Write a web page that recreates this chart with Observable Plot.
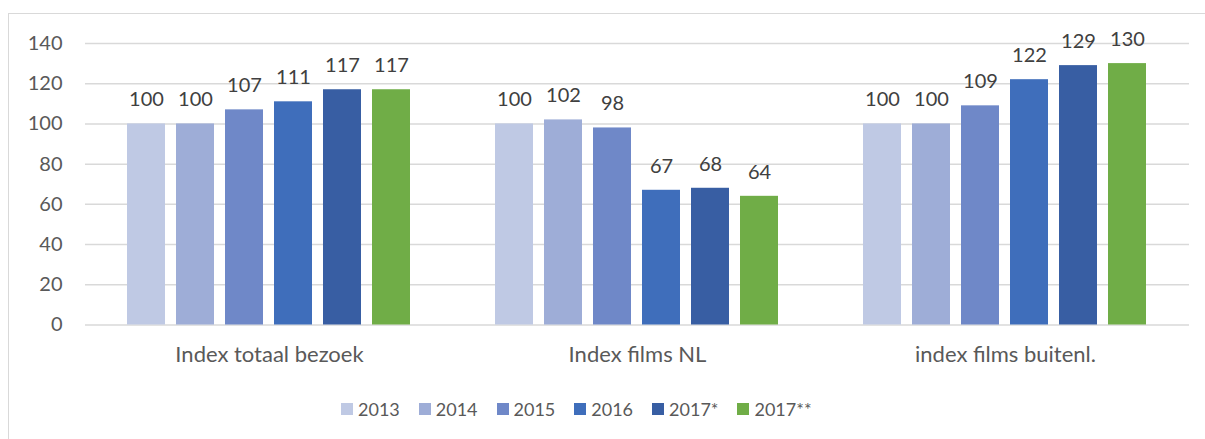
<!DOCTYPE html>
<html>
<head>
<meta charset="utf-8">
<script src="https://cdn.jsdelivr.net/npm/d3@7"></script>
<script src="https://cdn.jsdelivr.net/npm/@observablehq/plot@0.6"></script>
<style>
  html, body { margin: 0; padding: 0; background: #fff; }
  body { width: 1205px; height: 439px; position: relative; overflow: hidden; font-family: Lato, "Open Sans", sans-serif; }
  #frame { position: absolute; left: 8px; top: 13px; width: 1300px; height: 500px; border: 1px solid #d9d9d9; box-sizing: border-box; }
  #chart { position: absolute; left: 0; top: 0; }
  #legend { position: absolute; left: 341px; top: 398px; display: flex; align-items: center; font-size: 18px; color: #595959; }
  #legend .item { display: flex; align-items: center; margin-right: 19px; }
  #legend .sw { width: 12px; height: 12px; margin-right: 5px; }
</style>
</head>
<body>
<div id="frame"></div>
<div id="chart"></div>
<div id="legend"></div>
<script>
const groups = ["Index totaal bezoek", "Index films NL", "index films buitenl."];
const years = ["2013", "2014", "2015", "2016", "2017*", "2017**"];
const totaalBezoek = [100, 100, 107, 111, 117, 117];
const filmsNL = [100, 102, 98, 67, 68, 64];
const filmsBuitenl = [100, 100, 109, 122, 129, 130];
const yearColors = ["#bfc9e4", "#9eadd7", "#6f88c8", "#3f6ebb", "#385ea3", "#70ad47"];
const yTicks = [0, 20, 40, 60, 80, 100, 120, 140];

const series = [totaalBezoek, filmsNL, filmsBuitenl];
const data = groups.flatMap((g, i) => years.map((y, j) => ({group: g, year: y, value: series[i][j]})));

const plot = Plot.plot({
  width: 1205,
  height: 380,
  marginLeft: 85,
  marginRight: 16,
  marginTop: 43,
  marginBottom: 55.5,
  style: {fontFamily: "Lato, 'Open Sans', sans-serif", fontSize: "20px", color: "#595959", background: "transparent"},
  fx: {domain: groups, padding: 0, label: null},
  x: {domain: years, paddingInner: 0.216, paddingOuter: 0.863, axis: null},
  y: {domain: [0, 140], ticks: yTicks, label: null},
  color: {domain: years, range: yearColors},
  marks: [
    Plot.gridY(yTicks, {stroke: "#d9d9d9", strokeOpacity: 1, strokeWidth: 1.5}),
    Plot.axisY(yTicks, {tickSize: 0, tickPadding: 23, label: null, fill: "#595959"}),
    Plot.barY(data, {fx: "group", x: "year", y: "value", fill: "year"}),
    Plot.text(data, {fx: "group", x: "year", y: "value", text: d => String(d.value), dy: -24, fill: "#404040", fontSize: 20}),
    Plot.axisFx({anchor: "bottom", tickSize: 0, tickPadding: 21, label: null, fill: "#595959", fontSize: 22})
  ]
});
document.getElementById("chart").appendChild(plot);

const legend = document.getElementById("legend");
years.forEach((y, i) => {
  const item = document.createElement("div");
  item.className = "item";
  const sw = document.createElement("span");
  sw.className = "sw";
  sw.style.background = yearColors[i];
  const t = document.createElement("span");
  t.textContent = y;
  item.appendChild(sw);
  item.appendChild(t);
  legend.appendChild(item);
});
</script>
</body>
</html>
